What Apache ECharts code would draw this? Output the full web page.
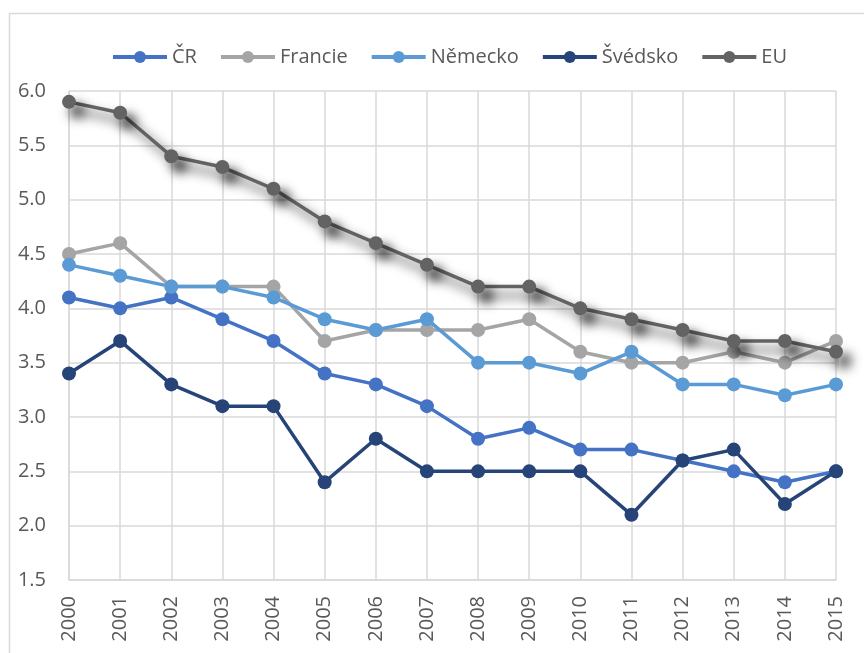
<!DOCTYPE html>
<html>
<head>
<meta charset="utf-8">
<script src="https://cdn.jsdelivr.net/npm/echarts@6/dist/echarts.min.js"></script>
<style>
  html, body { margin: 0; padding: 0; background: #fff; }
  #main { width: 864px; height: 653px; }
</style>
</head>
<body>
<div id="main"></div>
<script>
// roky
const years = ['2000', '2001', '2002', '2003', '2004', '2005', '2006', '2007',
  '2008', '2009', '2010', '2011', '2012', '2013', '2014', '2015']

// hodnoty jednotlivych rad
const cr = [4.1, 4.0, 4.1, 3.9, 3.7, 3.4, 3.3, 3.1, 2.8, 2.9, 2.7, 2.7, 2.6, 2.5, 2.4, 2.5]
const francie = [4.5, 4.6, 4.2, 4.2, 4.2, 3.7, 3.8, 3.8, 3.8, 3.9, 3.6, 3.5, 3.5, 3.6, 3.5, 3.7]
const nemecko = [4.4, 4.3, 4.2, 4.2, 4.1, 3.9, 3.8, 3.9, 3.5, 3.5, 3.4, 3.6, 3.3, 3.3, 3.2, 3.3]
const svedsko = [3.4, 3.7, 3.3, 3.1, 3.1, 2.4, 2.8, 2.5, 2.5, 2.5, 2.5, 2.1, 2.6, 2.7, 2.2, 2.5]
const eu = [5.9, 5.8, 5.4, 5.3, 5.1, 4.8, 4.6, 4.4, 4.2, 4.2, 4.0, 3.9, 3.8, 3.7, 3.7, 3.6]

const FONT = '"Open Sans", "DejaVu Sans", sans-serif'
const TEXT = '#595959'
const GRID = '#d9d9d9'

function makeSeries(name, data, color, shadow) {
  const s = {
    name: name,
    type: 'line',
    data: data,
    symbol: 'circle',
    symbolSize: 14,
    showSymbol: true,
    smooth: false,
    z: 2,
    lineStyle: { color: color, width: 3.5 },
    itemStyle: { color: color },
    emphasis: { disabled: true }
  }
  if (shadow) {
    // EU ma v originale rozmazany stin
    s.lineStyle.shadowColor = 'rgba(0,0,0,0.8)'
    s.lineStyle.shadowBlur = 12
    s.lineStyle.shadowOffsetX = 8
    s.lineStyle.shadowOffsetY = 9
    s.itemStyle.shadowColor = 'rgba(0,0,0,0.8)'
    s.itemStyle.shadowBlur = 12
    s.itemStyle.shadowOffsetX = 8
    s.itemStyle.shadowOffsetY = 9
    s.z = 3
  }
  return s
}

const chart = echarts.init(document.getElementById('main'))
const option = {
  animation: false,
  backgroundColor: '#fff',
  textStyle: { fontFamily: FONT },
  graphic: [
    {
      type: 'rect',
      shape: { x: 9.5, y: 13.5, width: 900, height: 700 },
      style: { fill: 'none', stroke: GRID, lineWidth: 1.5 },
      silent: true
    }
  ],
  legend: {
    left: 106,
    top: 42,
    itemWidth: 54,
    itemHeight: 15,
    itemGap: 22,
    textStyle: { color: TEXT, fontSize: 20, fontFamily: FONT },
    lineStyle: { width: 4, shadowBlur: 0, shadowOffsetX: 0, shadowOffsetY: 0, shadowColor: 'transparent' },
    itemStyle: { shadowBlur: 0, shadowOffsetX: 0, shadowOffsetY: 0, shadowColor: 'transparent' },
    data: ['ČR', 'Francie', 'Německo', 'Švédsko', 'EU']
  },
  grid: {
    left: 69,
    right: 28,
    top: 91,
    bottom: 73
  },
  xAxis: {
    type: 'category',
    boundaryGap: false,
    data: years,
    axisLine: { lineStyle: { color: GRID, width: 1.5 } },
    axisTick: { show: false },
    splitLine: { show: true, lineStyle: { color: GRID, width: 1.5 } },
    axisLabel: {
      rotate: 90,
      margin: 16,
      color: TEXT,
      fontSize: 20,
      fontFamily: FONT,
      interval: 0
    }
  },
  yAxis: {
    type: 'value',
    min: 1.5,
    max: 6,
    interval: 0.5,
    axisLine: { show: true, lineStyle: { color: GRID, width: 1.5 } },
    axisTick: { show: false },
    splitLine: { lineStyle: { color: GRID, width: 1.5 } },
    axisLabel: {
      margin: 23,
      color: TEXT,
      fontSize: 20,
      fontFamily: FONT,
      formatter: function (v) { return v.toFixed(1) }
    }
  },
  series: [
    makeSeries('ČR', cr, '#4472C4'),
    makeSeries('Francie', francie, '#A5A5A5'),
    makeSeries('Německo', nemecko, '#5B9BD5'),
    makeSeries('Švédsko', svedsko, '#264478'),
    makeSeries('EU', eu, '#636363', true)
  ]
}
chart.setOption(option)
</script>
</body>
</html>
